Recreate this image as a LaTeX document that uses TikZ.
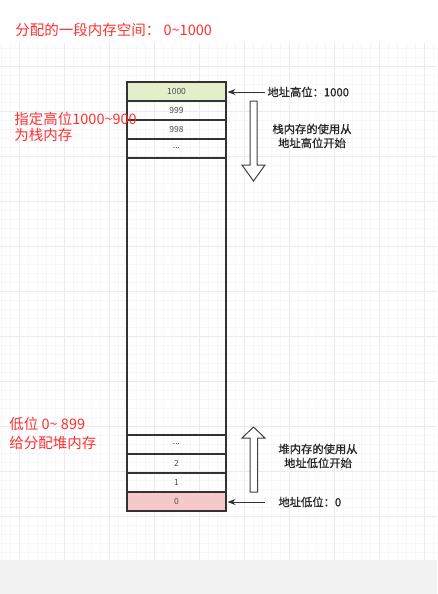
\documentclass[tikz,border=0pt]{standalone}
\usepackage{fontspec}
\usepackage{tikz}
\usetikzlibrary{arrows.meta}
\usepackage{xcolor}
\newfontfamily\cjk{Noto Sans CJK SC}
\newfontfamily\cjkmid[FakeBold=0.8]{Noto Sans CJK SC}
\definecolor{notered}{HTML}{FF2F2F}
\definecolor{hicell}{HTML}{E3EFCB}
\definecolor{locell}{HTML}{F5C9C9}
\definecolor{cellline}{HTML}{333333}
\definecolor{bandgray}{HTML}{F2F2F2}

\begin{document}
\begin{tikzpicture}[x=1pt, y=-1pt, thick, >={Stealth[length=8pt, width=6pt]},
    cell/.style={draw=cellline, line width=1.1pt, minimum width=99pt, minimum height=19pt,
        inner sep=0pt, outer sep=0pt, font=\cjk\fontsize{8.5}{10}\selectfont, text=black!70},
    note/.style={text=notered, font=\cjk\fontsize{14.5}{16}\selectfont, align=left, inner sep=0pt},
    tag/.style={text=black!85, font=\cjkmid\fontsize{11.3}{14}\selectfont, align=center, inner sep=2pt},
    ptr/.style={->, line width=1pt, draw=black!80},
    hollow/.style={draw=black!75, line width=1pt, fill=white}]
    \useasboundingbox (0,0) rectangle (437,594);
    % background grid
    \fill[white] (0,0) rectangle (437,560);
    \foreach \x in {1,10,...,437} \draw[black!3, line width=0.5pt] (\x,43) -- (\x,560);
    \foreach \y in {48,57,...,560} \draw[black!3, line width=0.5pt] (0,\y) -- (437,\y);
    \foreach \x in {19,64,...,437} \draw[black!8, line width=0.6pt] (\x,43) -- (\x,560);
    \foreach \y in {66,111,...,560} \draw[black!8, line width=0.6pt] (0,\y) -- (437,\y);
    \fill[bandgray] (0,560) rectangle (437,594);

    \node[note, anchor=west] (title) at (15,30) {分配的一段内存空间： 0\textasciitilde1000};

    % memory cells
    \node[cell, fill=hicell, anchor=north west] (c1000) at (127,82) {1000};
    \node[cell, anchor=north] (c999) at (c1000.south) {999};
    \node[cell, anchor=north] (c998) at (c999.south) {998};
    \node[cell, anchor=north] (cdotsa) at (c998.south) {...};
    \node[cell, anchor=north, minimum height=277pt] (cfree) at (cdotsa.south) {};
    \node[cell, anchor=north] (cdotsb) at (cfree.south) {...};
    \node[cell, anchor=north] (c2) at (cdotsb.south) {2};
    \node[cell, anchor=north] (c1) at (c2.south) {1};
    \node[cell, fill=locell, anchor=north] (c0) at (c1.south) {0};

    % address pointers
    \node[tag, anchor=west] (hi) at (265,92) {地址高位：1000};
    \draw[ptr, shorten >=1.5pt] (hi.west) -- (c1000.east |- hi.west);
    \node[tag, anchor=west] (lo) at (276,502) {地址低位：0};
    \draw[ptr, shorten <=11pt, shorten >=1.5pt] (lo.west) -- (c0.east |- lo.west);

    % growth directions
    \draw[hollow] (250,101) -- (257,101) -- (257,165) -- (265,165) -- (253.5,181)
        -- (242,165) -- (250,165) -- cycle;
    \node[tag] (stack) at (312,136) {栈内存的使用从\\地址高位开始};
    \draw[hollow] (250,492) -- (257.5,492) -- (257.5,438) -- (265,438) -- (253.5,427)
        -- (242,438) -- (250,438) -- cycle;
    \node[tag] (heap) at (318,456) {堆内存的使用从\\地址低位开始};

    % region notes
    \node[note, anchor=north west, font=\cjk\fontsize{14.5}{15.5}\selectfont] (stacknote) at (14,112)
        {指定高位1000\textasciitilde900\\为栈内存};
    \node[note, anchor=north west, font=\cjk\fontsize{14.5}{19}\selectfont] (heapnote) at (9,417)
        {低位 0\textasciitilde{} 899\\给分配堆内存};
\end{tikzpicture}
\end{document}
